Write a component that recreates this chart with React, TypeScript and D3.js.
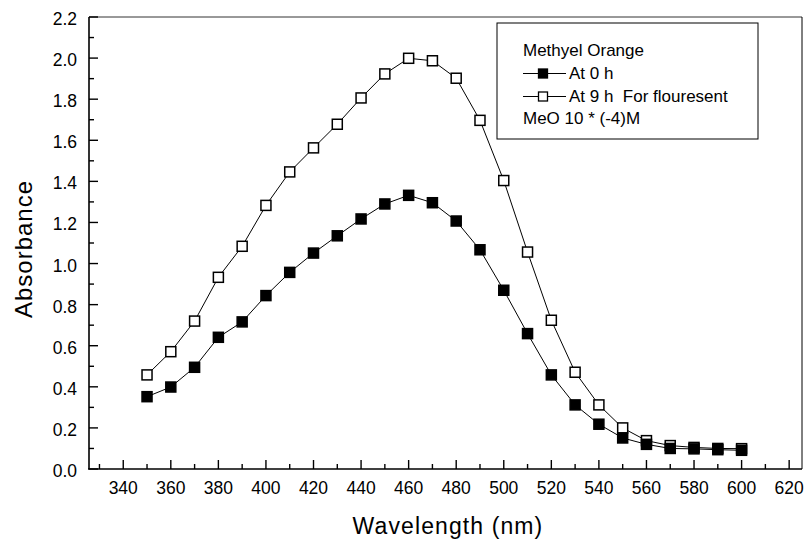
import React from "react";
import * as d3 from "d3";

const wavelengths = [350, 360, 370, 380, 390, 400, 410, 420, 430, 440, 450, 460, 470, 480, 490, 500, 510, 520, 530, 540, 550, 560, 570, 580, 590, 600];
const at0h = [0.352, 0.399, 0.495, 0.641, 0.716, 0.844, 0.957, 1.051, 1.135, 1.217, 1.29, 1.332, 1.296, 1.207, 1.067, 0.87, 0.659, 0.458, 0.312, 0.218, 0.151, 0.12, 0.1, 0.098, 0.094, 0.091];
const at9h = [0.458, 0.571, 0.72, 0.933, 1.084, 1.283, 1.446, 1.563, 1.678, 1.806, 1.923, 1.999, 1.987, 1.902, 1.697, 1.404, 1.056, 0.724, 0.471, 0.312, 0.2, 0.138, 0.114, 0.105, 0.1, 0.099];
const xMajorTicks = [340, 360, 380, 400, 420, 440, 460, 480, 500, 520, 540, 560, 580, 600, 620];
const xMinorTicks = [330, 350, 370, 390, 410, 430, 450, 470, 490, 510, 530, 550, 570, 590, 610];
const yMajorTicks = [0, 0.2, 0.4, 0.6, 0.8, 1.0, 1.2, 1.4, 1.6, 1.8, 2.0, 2.2];
const yMinorTicks = [0.1, 0.3, 0.5, 0.7, 0.9, 1.1, 1.3, 1.5, 1.7, 1.9, 2.1];
const legendTitle = "Methyel Orange";
const seriesNames = ["At 0 h", "At 9 h  For flouresent"];
const legendFooter = "MeO 10 * (-4)M";
const xTitle = "Wavelength (nm)";
const yTitle = "Absorbance";

const FONT = "'Liberation Sans', Arial, Helvetica, sans-serif";

export default function App() {
  const W = 805, H = 540;
  const x = d3.scaleLinear().domain([325.6, 625.4]).range([89, 802]);
  const y = d3.scaleLinear().domain([0, 2.2]).range([469, 17]);
  const line = d3.line<number>().x((_, i) => x(wavelengths[i])).y((d) => y(d));
  const ms = 10;

  const series = [
    { data: at9h, fill: "#fff" },
    { data: at0h, fill: "#000" },
  ];

  return (
    <svg width={W} height={H} style={{ position: "absolute", left: 0, top: 0, background: "#fff" }} fontFamily={FONT}>
      <rect x={0} y={0} width={W} height={H} fill="#fff" />
      {/* frame */}
      <line x1={89} x2={802} y1={y(2.2)} y2={y(2.2)} stroke="#333" strokeWidth={1} />
      <line x1={802} x2={802} y1={y(2.2)} y2={y(0)} stroke="#000" strokeWidth={1} />
      {/* axes */}
      <line x1={89} x2={89} y1={y(2.2)} y2={y(0)} stroke="#000" strokeWidth={1.6} />
      <line x1={88} x2={802} y1={y(0)} y2={y(0)} stroke="#000" strokeWidth={1.6} />
      {xMajorTicks.map((t) => (
        <g key={"xm" + t}>
          <line x1={x(t)} x2={x(t)} y1={y(0)} y2={y(0) - 9} stroke="#000" strokeWidth={1.4} />
          <text x={x(t)} y={494} fontSize={17.5} textAnchor="middle" fill="#000">{t}</text>
        </g>
      ))}
      {xMinorTicks.map((t) => (
        <line key={"xn" + t} x1={x(t)} x2={x(t)} y1={y(0)} y2={y(0) - 5} stroke="#000" strokeWidth={1.4} />
      ))}
      {yMajorTicks.map((t) => (
        <g key={"ym" + t}>
          <line x1={89} x2={98} y1={y(t)} y2={y(t)} stroke="#000" strokeWidth={1.4} />
          <text x={77} y={y(t) + 8} fontSize={17.5} textAnchor="end" fill="#000">{t.toFixed(1)}</text>
        </g>
      ))}
      {yMinorTicks.map((t) => (
        <line key={"yn" + t} x1={89} x2={94} y1={y(t)} y2={y(t)} stroke="#000" strokeWidth={1.4} />
      ))}
      {/* titles */}
      <text x={448} y={534} fontSize={23} textAnchor="middle" letterSpacing={1.1} fill="#000">{xTitle}</text>
      <text transform={`translate(32,249) rotate(-90)`} fontSize={24} textAnchor="middle" letterSpacing={1} fill="#000">{yTitle}</text>
      {/* series */}
      {series.map((s, si) => (
        <g key={"s" + si}>
          <path d={line(s.data) || ""} fill="none" stroke="#000" strokeWidth={1} />
          {s.data.map((v, i) => (
            <rect key={i} x={x(wavelengths[i]) - ms / 2} y={y(v) - ms / 2} width={ms} height={ms}
              fill={s.fill} stroke="#000" strokeWidth={1.5} />
          ))}
        </g>
      ))}
      {/* legend */}
      <rect x={497} y={23} width={261} height={116} fill="#fff" stroke="#000" strokeWidth={1} />
      <text x={523} y={56} fontSize={17} fill="#000">{legendTitle}</text>
      {seriesNames.map((n, i) => {
        const by = 79 + i * 23;
        const cy = by - 5.5;
        return (
          <g key={"l" + i}>
            <line x1={523} x2={566} y1={cy} y2={cy} stroke="#000" strokeWidth={1} />
            <rect x={543 - 4.5} y={cy - 4.5} width={9} height={9} fill={i === 0 ? "#000" : "#fff"} stroke="#000" strokeWidth={1.3} />
            <text x={569} y={by} fontSize={17} fill="#000" style={{ whiteSpace: "pre" }}>{n}</text>
          </g>
        );
      })}
      <text x={523} y={124} fontSize={17} fill="#000">{legendFooter}</text>
    </svg>
  );
}
